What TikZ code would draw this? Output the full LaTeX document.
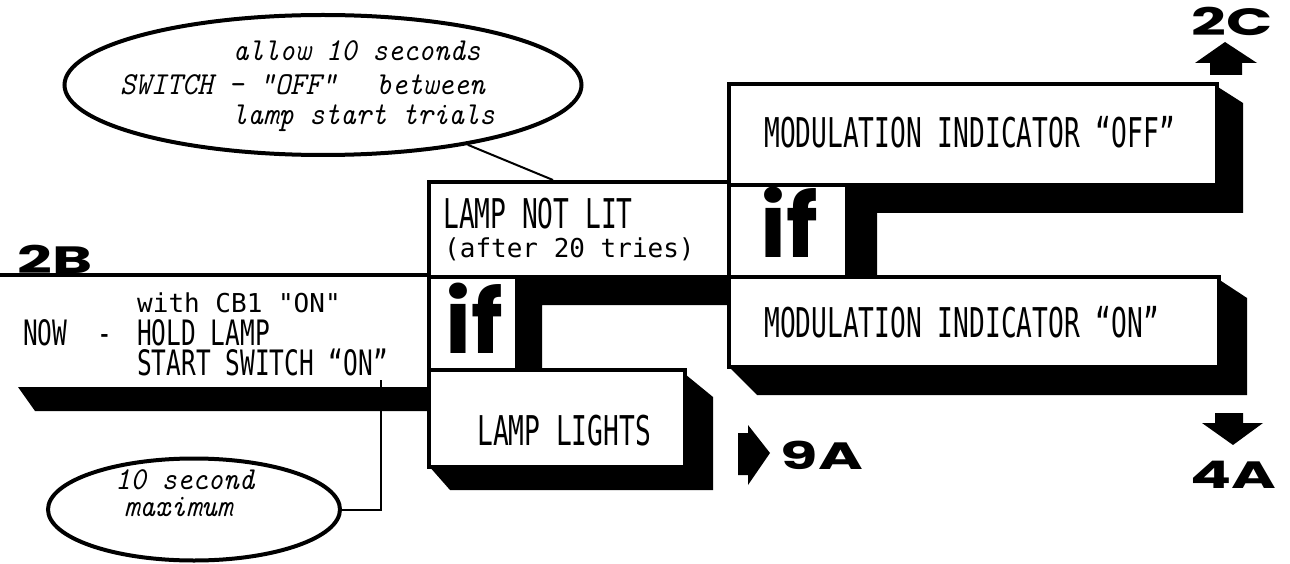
\documentclass[tikz,border=0pt]{standalone}
\usepackage{fontspec}
\usetikzlibrary{shapes.geometric}
\newfontfamily\leroy[FakeStretch=0.64]{DejaVu Sans Mono}
\newfontfamily\leroyL[FakeStretch=0.7]{DejaVu Sans Mono}
\newfontfamily\typew{DejaVu Sans Mono}
\newfontfamily\heavy[FakeStretch=1.6]{Poppins}
\newfontfamily\iffont{Poppins}
\newfontfamily\callfont[FakeStretch=0.92]{Latin Modern Mono}
\begin{document}
\begin{tikzpicture}[x=1pt,y=-1pt,
  box/.style={draw, fill=white, line width=4pt, inner sep=0pt, anchor=north west},
  shade/.style={fill=black, draw=none},
  bigtxt/.style={inner sep=0pt, anchor=base west, font=\leroy\fontsize{41}{41}\selectfont},
  midtxt/.style={inner sep=0pt, anchor=base west, font=\leroyL\fontsize{35}{35}\selectfont},
  smalltxt/.style={inner sep=0pt, anchor=base west, font=\typew\fontsize{26}{26}\selectfont},
  calltxt/.style={inner sep=0pt, font=\callfont\itshape\fontsize{32}{32}\selectfont},
  callout/.style={draw, ellipse, fill=white, line width=4pt, inner sep=0pt},
  iftxt/.style={inner sep=0pt, anchor=base west, font=\iffont\bfseries\fontsize{88}{88}\selectfont},
  label/.style={inner sep=0pt, font=\heavy\bfseries\fontsize{38}{38}\selectfont},
  thin/.style={line width=2pt},
  arrowfill/.style={fill=black, draw=none}
]
\useasboundingbox (0,0) rectangle (1290,564);
\fill[white] (0,0) rectangle (1290,564);

% ---------- shadows ----------
\fill[shade] (18,387) -- (430,387) -- (430,411) -- (35,411) -- cycle;
\fill[shade] (515,275) -- (727,275) -- (727,305) -- (542,305) -- (542,368) -- (515,368) -- cycle;
\fill[shade] (1210,82) -- (1243,103) -- (1243,213) -- (877,213) -- (877,275) -- (845,275) -- (845,183) -- (1210,183) -- cycle;
\fill[shade] (1212,275) -- (1247,298) -- (1247,395) -- (757,395) -- (727,365) -- (1212,365) -- cycle;
\fill[shade] (680,370) -- (713,397) -- (713,490) -- (450,490) -- (428,465) -- (680,465) -- cycle;

% ---------- boxes ----------
\node[box, minimum width=300pt, minimum height=95pt] (notlit) at (427,180) {};
\node[box, minimum width=88pt, minimum height=93pt] (ifA) at (427,275) {};
\node[box, minimum width=256pt, minimum height=97pt] (lights) at (427,368) {};
\node[box, minimum width=488pt, minimum height=101pt] (off) at (727,82) {};
\node[box, minimum width=118pt, minimum height=92pt] (ifB) at (727,183) {};
\node[box, minimum width=490pt, minimum height=90pt] (on) at (727,275) {};

% 2B top line of left box
\coordinate (edge) at (0,275);
\draw[line width=4.5pt] (edge) -- (ifA.north west);

% ---------- texts ----------
\node[smalltxt] (t1) at (137,312) {with CB1 "ON"};
\node[midtxt] (t2) at (23,345) {NOW};
\node[midtxt] (t3) at (97,345) {-};
\node[midtxt] (t4) at (137,345) {HOLD LAMP};
\node[midtxt] (t5) at (137,375) {START SWITCH “ON”};

\node[bigtxt] (t6) at (443,229) {LAMP NOT LIT};
\node[smalltxt] (t7) at (444,257) {(after 20 tries)};
\node[bigtxt] (t8) at (477,445) {LAMP LIGHTS};
\node[bigtxt] (t9) at (764,148) {MODULATION INDICATOR “OFF”};
\node[bigtxt] (t10) at (764,337) {MODULATION INDICATOR “ON”};

\node[iftxt] (if1) at (445,353) {if};
\node[iftxt] (if2) at (760,257) {if};

% ---------- callouts ----------
\node[callout, minimum width=517pt, minimum height=140pt] (callA) at (323,85) {};
\node[calltxt, anchor=base west] (c1) at (233,61) {allow 10 seconds};
\node[calltxt, anchor=base west] (c2) at (120,95) {SWITCH - "OFF"};
\node[calltxt, anchor=base east] (c3) at (485,95) {between};
\node[calltxt, anchor=base west] (c4) at (232,125) {lamp start trials};
\coordinate (lampTop) at (553,180);
\draw[thin] (callA) -- (lampTop);

\node[callout, minimum width=292pt, minimum height=102pt] (callB) at (194,509.5) {};
\node[calltxt, anchor=base west] (c5) at (115,489) {10 second};
\node[calltxt, anchor=base west] (c6) at (124,516) {maximum};
\coordinate (switchOn) at (381,380);
\draw[thin] (callB.east) -| (switchOn);

% ---------- off-page connectors ----------
\node[label] (l2B) at (55,259) {2B};
\node[label] (l2C) at (1232,21) {2C};
\node[label] (l9A) at (822,455) {9A};
\node[label] (l4A) at (1233,475) {4A};

\fill[arrowfill] (1225,42) -- (1257,63) -- (1242,63) -- (1242,75) -- (1210,75) -- (1210,63) -- (1195,63) -- cycle;
\fill[arrowfill] (1215,413) -- (1243,413) -- (1243,423) -- (1263,423) -- (1233,445) -- (1202,423) -- (1215,423) -- cycle;
\fill[arrowfill] (738,433) -- (748,433) -- (748,425) -- (770,453) -- (748,485) -- (748,475) -- (738,475) -- cycle;
\end{tikzpicture}
\end{document}
